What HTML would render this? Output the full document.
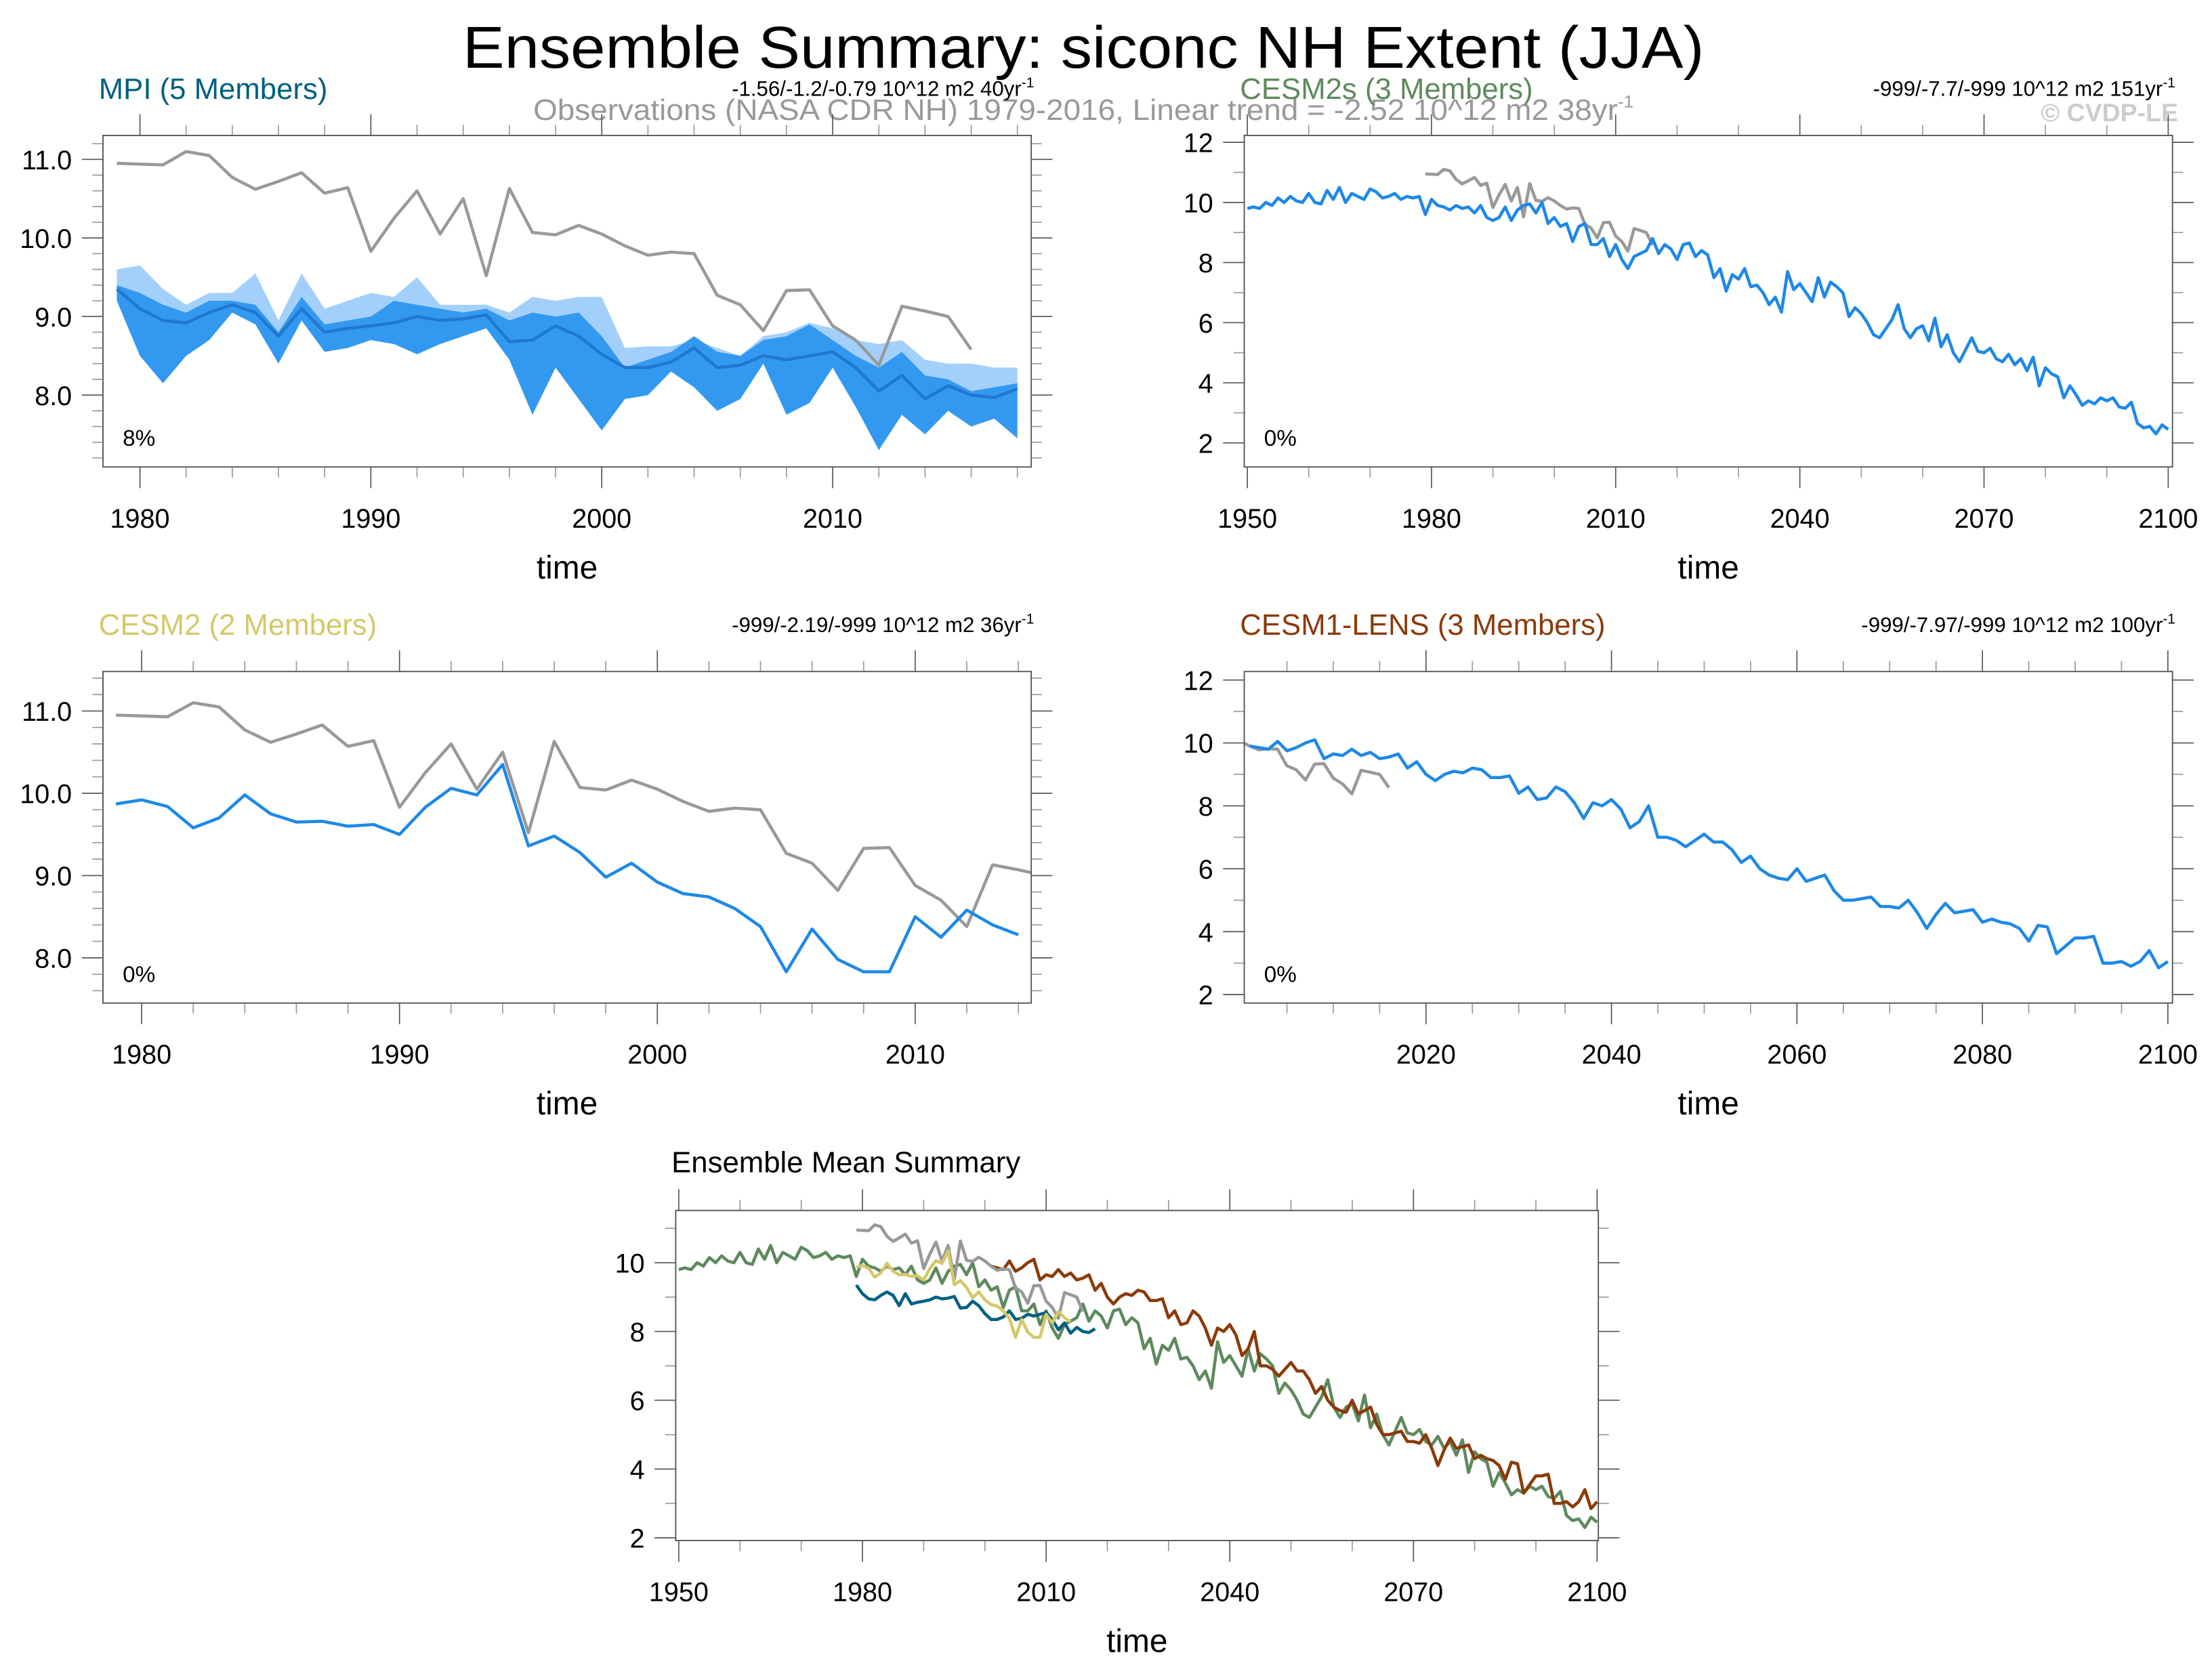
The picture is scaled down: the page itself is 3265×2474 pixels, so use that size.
<!DOCTYPE html>
<html><head><meta charset="utf-8"><style>
html,body{margin:0;padding:0;background:#fff}
svg{display:block}
text{font-family:"Liberation Sans",sans-serif}
</style></head><body>
<svg id="fig" xmlns="http://www.w3.org/2000/svg" width="3265" height="2474" viewBox="0 0 1568 1188" preserveAspectRatio="none">
<text x="768" y="48" font-size="42" text-anchor="middle" textLength="880" lengthAdjust="spacingAndGlyphs">Ensemble Summary: siconc NH Extent (JJA)</text>
<text x="768" y="85" font-size="21" fill="#999" text-anchor="middle" textLength="780" lengthAdjust="spacingAndGlyphs">Observations (NASA CDR NH) 1979-2016, Linear trend = -2.52 10^12 m2 38yr<tspan font-size="12" dy="-9">-1</tspan></text>
<text x="1544" y="86" font-size="18" font-weight="bold" fill="#ccc" text-anchor="end">© CVDP-LE</text>
<g id="root"></g>
</svg>
<script>
const obsYears0 = 1979;
const obsValues = [10.95,10.94,10.93,11.1,11.05,10.77,10.62,10.72,10.83,10.57,10.64,9.83,10.25,10.6,10.05,10.5,9.52,10.63,10.07,10.04,10.16,10.05,9.9,9.78,9.82,9.8,9.27,9.15,8.82,9.33,9.34,8.88,8.7,8.38,9.13,9.07,9.0,8.58];
const mpiStart = 1979;
const mpiMean = [9.35,9.1,8.95,8.92,9.05,9.15,9.05,8.75,9.1,8.8,8.85,8.88,8.92,9.0,8.95,8.97,9.02,8.68,8.7,8.88,8.75,8.52,8.35,8.35,8.42,8.6,8.35,8.38,8.5,8.45,8.5,8.55,8.35,8.05,8.25,7.95,8.12,8.0,7.97,8.08];
const mpiMin = [9.2,8.5,8.15,8.5,8.7,9.05,8.9,8.4,8.95,8.55,8.6,8.7,8.65,8.52,8.65,8.75,8.85,8.45,7.75,8.35,7.95,7.55,7.95,8.0,8.3,8.1,7.8,7.95,8.4,7.75,7.9,8.35,7.85,7.3,7.75,7.5,7.8,7.6,7.7,7.45];
const mpiP75 = [9.4,9.3,9.15,9.05,9.2,9.2,9.15,8.8,9.25,8.9,8.95,9.0,9.2,9.15,9.1,9.05,9.1,8.95,9.05,9.0,9.05,8.75,8.35,8.45,8.55,8.75,8.55,8.5,8.7,8.75,8.9,8.7,8.5,8.35,8.55,8.25,8.2,8.05,8.1,8.15];
const mpiMax = [9.6,9.65,9.35,9.15,9.3,9.3,9.55,8.95,9.55,9.1,9.2,9.3,9.25,9.5,9.15,9.15,9.15,9.05,9.25,9.2,9.25,9.25,8.6,8.62,8.62,8.7,8.6,8.5,8.75,8.8,8.92,8.85,8.7,8.65,8.7,8.45,8.4,8.4,8.35,8.35];
const cesm2Start = 1979;
const cesm2Values = [9.87,9.92,9.84,9.58,9.7,9.98,9.75,9.65,9.66,9.6,9.62,9.5,9.83,10.06,9.98,10.35,9.36,9.48,9.28,8.98,9.15,8.92,8.78,8.74,8.6,8.38,7.83,8.35,7.98,7.83,7.83,8.5,8.25,8.58,8.4,8.28];
const cesm2sStart = 1950;
const cesm2sValues = [9.8,9.85,9.8,10.0,9.9,10.15,10.0,10.2,10.05,10.0,
10.3,10.0,9.95,10.4,10.1,10.5,10.0,10.3,10.2,10.1,
10.45,10.35,10.15,10.2,10.3,10.1,10.2,10.15,10.2,9.6,
10.1,9.9,9.85,9.75,9.9,9.8,9.85,9.65,9.9,9.5,
9.4,9.5,9.85,9.4,9.75,9.9,9.95,9.65,10.0,9.3,
9.5,9.2,9.3,8.7,9.2,9.3,8.6,8.6,8.8,8.2,
8.6,8.1,7.8,8.2,8.3,8.4,8.8,8.3,8.6,8.45,
8.1,8.6,8.65,8.2,8.4,8.25,7.5,7.8,7.05,7.6,
7.45,7.8,7.2,7.25,7.0,6.6,6.85,6.35,7.7,7.1,
7.3,7.0,6.7,7.5,6.85,7.35,7.2,7.0,6.2,6.5,
6.3,6.0,5.6,5.5,5.8,6.1,6.6,5.8,5.5,5.8,
5.9,5.4,6.15,5.2,5.6,5.0,4.7,5.1,5.5,5.05,
5.0,5.15,4.8,4.7,4.95,4.6,4.8,4.4,4.85,3.9,
4.5,4.3,4.2,3.5,3.9,3.6,3.25,3.4,3.3,3.5,
3.4,3.5,3.2,3.15,3.35,2.65,2.5,2.55,2.3,2.6,2.45];
const lensStart = 2001;
const lensValues = [9.9,9.85,9.8,10.05,9.75,9.85,10.0,10.1,9.5,9.65,
9.6,9.8,9.6,9.7,9.5,9.55,9.65,9.2,9.4,9.0,
8.8,9.0,9.1,9.05,9.2,9.15,8.9,8.9,8.95,8.4,
8.6,8.2,8.25,8.6,8.45,8.1,7.6,8.1,8.0,8.2,
7.9,7.3,7.5,8.0,7.0,7.0,6.9,6.7,6.9,7.1,
6.85,6.85,6.6,6.2,6.4,6.0,5.8,5.7,5.65,6.0,
5.6,5.7,5.8,5.3,5.0,5.0,5.05,5.1,4.8,4.8,
4.75,5.0,4.6,4.1,4.55,4.9,4.6,4.65,4.7,4.3,
4.4,4.3,4.25,4.1,3.7,4.2,4.15,3.3,3.55,3.8,
3.8,3.85,3.0,3.0,3.05,2.9,3.05,3.4,2.85,3.05];
const p1XTicks = [1980,1990,2000,2010];
const p1YTicks = [11,10,9,8];
const p2XTicks = [1950,1980,2010,2040,2070,2100];
const p2YTicks = [2,4,6,8,10,12];
const p4XTicks = [2020,2040,2060,2080,2100];
const p5YTicks = [2,4,6,8,10];

const NS="http://www.w3.org/2000/svg";
const root=document.getElementById('root');
function mk(tag,attrs,parent){const e=document.createElementNS(NS,tag);for(const k in attrs)e.setAttribute(k,attrs[k]);(parent||root).appendChild(e);return e;}

function makePanel(cfg){
  const g=mk('g',{});
  
  
  const sx=v=>cfg.x0+(v-cfg.xmin)/(cfg.xmax-cfg.xmin)*(cfg.x1-cfg.x0);
  const sy=v=>cfg.y1-(v-cfg.ymin)/(cfg.ymax-cfg.ymin)*(cfg.y1-cfg.y0);
  const clipId='clip-'+cfg.name;
  const cp=mk('clipPath',{id:clipId},g);
  mk('rect',{x:cfg.x0,y:cfg.y0,width:cfg.x1-cfg.x0,height:cfg.y1-cfg.y0},cp);
  const plot=mk('g',{'clip-path':'url(#'+clipId+')'},g);
  const tk=mk('g',{stroke:'#555','stroke-width':0.8},g);
  for(let v=Math.ceil(cfg.xmin/cfg.xminor)*cfg.xminor; v<=cfg.xmax; v+=cfg.xminor){
    const major=cfg.xticks.includes(v); const L=major?15:7.5; const x=sx(v);
    mk('line',{x1:x,x2:x,y1:cfg.y1,y2:cfg.y1+L,stroke:major?'#555':'#999'},tk);
    mk('line',{x1:x,x2:x,y1:cfg.y0,y2:cfg.y0-L,stroke:major?'#555':'#999'},tk);
  }
  const ylo=Math.ceil(cfg.ymin/cfg.yminor-1e-9);
  for(let i=ylo; i*cfg.yminor<=cfg.ymax+1e-9; i++){
    const v=+(i*cfg.yminor).toFixed(3);
    const major=cfg.yticks.some(t=>Math.abs(t-v)<1e-6); const L=major?15:7.5; const y=sy(v);
    mk('line',{x1:cfg.x0,x2:cfg.x0-L,y1:y,y2:y,stroke:major?'#555':'#999'},tk);
    mk('line',{x1:cfg.x1,x2:cfg.x1+L,y1:y,y2:y,stroke:major?'#555':'#999'},tk);
  }
  mk('rect',{x:cfg.x0,y:cfg.y0,width:cfg.x1-cfg.x0,height:cfg.y1-cfg.y0,fill:'none',stroke:'#555','stroke-width':0.9},g);
  cfg.xticks.forEach(v=>{const t=mk('text',{x:sx(v),y:cfg.y1+43,'font-size':19,'text-anchor':'middle'},g);t.textContent=v;
    
    });
  cfg.yticks.forEach(v=>{const t=mk('text',{x:cfg.x0-22,y:sy(v)+7,'font-size':19,'text-anchor':'end'},g);t.textContent=cfg.yfmt?v.toFixed(1):v;
    
    });
  const xt=mk('text',{x:(cfg.x0+cfg.x1)/2,y:cfg.y1+79,'font-size':23,'text-anchor':'middle'},g);xt.textContent='time';
  
  
  if(cfg.title){const t=mk('text',{x:cfg.x0-3,y:cfg.y0-26,'font-size':21,fill:cfg.tcolor},g);t.textContent=cfg.title;
    
    }
  if(cfg.trend){const t=mk('text',{x:cfg.x1+2,y:cfg.y0-28,'font-size':15,'text-anchor':'end'},g);t.innerHTML=cfg.trend+'<tspan font-size="10" dy="-6">-1</tspan>';
    
    }
  if(cfg.pct){const t=mk('text',{x:cfg.x0+14,y:cfg.y1-15,'font-size':16},g);t.textContent=cfg.pct;
    
    }
  return {sx,sy,plot};
}
function line(P,start,vals,color,w,name){
  const d=vals.map((v,i)=>(i?'L':'M')+P.sx(start+i).toFixed(2)+','+P.sy(v).toFixed(2)).join('');
  const p=mk('path',{d:d,fill:'none',stroke:color,'stroke-width':w||2.2,'stroke-linejoin':'round'},P.plot);
  
  
}
function band(P,start,lo,hi,color,name){
  let d=hi.map((v,i)=>(i?'L':'M')+P.sx(start+i).toFixed(2)+','+P.sy(v).toFixed(2)).join('');
  for(let i=lo.length-1;i>=0;i--) d+='L'+P.sx(start+i).toFixed(2)+','+P.sy(lo[i]).toFixed(2);
  const p=mk('path',{d:d+'Z',fill:color,stroke:'none'},P.plot);
  
  
}
const GRAY='#999', BLUE='#1e88e8';

const P1=makePanel({name:'mpi-panel',x0:73,y0:96,x1:731,y1:331,xmin:1978.4,xmax:2018.6,ymin:7.085,ymax:11.305,xticks:p1XTicks,xminor:2,yticks:p1YTicks,yminor:0.2,yfmt:true,title:'MPI (5 Members)',tcolor:'#006080',trend:'-1.56/-1.2/-0.79 10^12 m2 40yr',pct:'8%'});
band(P1,mpiStart,mpiMin,mpiMax,'#a3d0fb','mpi-range-band');
band(P1,mpiStart,mpiMin,mpiP75,'#3399f0','mpi-spread-band');
line(P1,obsYears0,obsValues,GRAY,2.2,'obs-line');
line(P1,mpiStart,mpiMean,'#1f78d0',2.2,'mpi-mean-line');

const P2=makePanel({name:'cesm2s-panel',x0:882,y0:96,x1:1540,y1:331,xmin:1949.5,xmax:2100.7,ymin:1.2,ymax:12.23,xticks:p2XTicks,xminor:10,yticks:p2YTicks,yminor:1,title:'CESM2s (3 Members)',tcolor:'#5d8a5d',trend:'-999/-7.7/-999 10^12 m2 151yr',pct:'0%'});
line(P2,obsYears0,obsValues,GRAY,2.2,'obs-line');
line(P2,cesm2sStart,cesm2sValues,BLUE,2.2,'cesm2s-line');

const P3=makePanel({name:'cesm2-panel',x0:73,y0:476,x1:731,y1:711,xmin:1978.5,xmax:2014.5,ymin:7.45,ymax:11.48,xticks:p1XTicks,xminor:2,yticks:p1YTicks,yminor:0.2,yfmt:true,title:'CESM2 (2 Members)',tcolor:'#d4c86a',trend:'-999/-2.19/-999 10^12 m2 36yr',pct:'0%'});
line(P3,obsYears0,obsValues,GRAY,2.2,'obs-line');
line(P3,cesm2Start,cesm2Values,BLUE,2.2,'cesm2-line');

const P4=makePanel({name:'cesm1-lens-panel',x0:882,y0:476,x1:1540,y1:711,xmin:2000.4,xmax:2100.5,ymin:1.73,ymax:12.27,xticks:p4XTicks,xminor:5,yticks:p2YTicks,yminor:1,title:'CESM1-LENS (3 Members)',tcolor:'#8b3a0a',trend:'-999/-7.97/-999 10^12 m2 100yr',pct:'0%'});
line(P4,obsYears0,obsValues,GRAY,2.2,'obs-line');
line(P4,lensStart,lensValues,BLUE,2.2,'cesm1-lens-line');

const P5=makePanel({name:'ensemble-mean-panel',x0:479,y0:858,x1:1133,y1:1092,xmin:1949.5,xmax:2100.2,ymin:1.92,ymax:11.52,xticks:p2XTicks,xminor:10,yticks:p5YTicks,yminor:1});
{const t=mk('text',{x:476,y:831,'font-size':21});t.textContent='Ensemble Mean Summary';
 
 }
line(P5,cesm2sStart,cesm2sValues,'#5d8a5d',2.2,'cesm2s-mean-line');
line(P5,lensStart,lensValues,'#8b3a0a',2.2,'cesm1-lens-mean-line');
line(P5,obsYears0,obsValues,GRAY,2.2,'obs-line');
line(P5,mpiStart,mpiMean,'#006080',2.2,'mpi-mean-line');
line(P5,cesm2Start,cesm2Values,'#d4c86a',2.2,'cesm2-mean-line');
</script>
</body></html>
